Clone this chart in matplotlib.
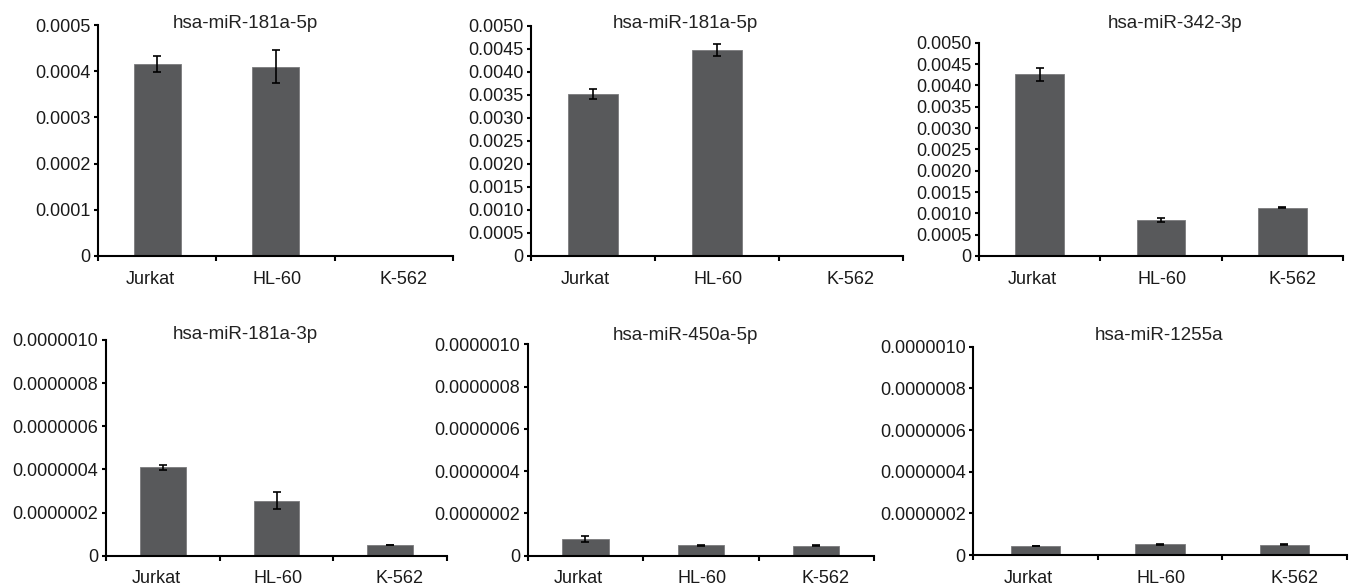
import matplotlib
matplotlib.use("Agg")
import matplotlib.pyplot as plt
import numpy as np
from matplotlib.ticker import FixedLocator, FuncFormatter

plt.rcParams['font.family'] = ['Liberation Sans', 'DejaVu Sans']

W, H = 1352, 585
DPI = 100

cell_lines = ['Jurkat', 'HL-60', 'K-562']

titles = ['hsa-miR-181a-5p', 'hsa-miR-181a-5p', 'hsa-miR-342-3p',
          'hsa-miR-181a-3p', 'hsa-miR-450a-5p', 'hsa-miR-1255a']

mir181a5p_a = [0.000415, 0.000410, 0.0]
mir181a5p_a_err = [0.000017, 0.000035, 0.0]

mir181a5p_b = [0.00352, 0.00447, 0.0]
mir181a5p_b_err = [0.00011, 0.00013, 0.0]

mir342_3p = [0.00426, 0.00084, 0.00113]
mir342_3p_err = [0.00015, 0.00005, 0.00001]

mir181a3p = [4.1e-7, 2.55e-7, 0.5e-7]
mir181a3p_err = [0.11e-7, 0.40e-7, 0.01e-7]

mir450a5p = [0.80e-7, 0.50e-7, 0.48e-7]
mir450a5p_err = [0.13e-7, 0.02e-7, 0.01e-7]

mir1255a = [0.43e-7, 0.51e-7, 0.50e-7]
mir1255a_err = [0.01e-7, 0.02e-7, 0.01e-7]

values = [mir181a5p_a, mir181a5p_b, mir342_3p, mir181a3p, mir450a5p, mir1255a]
errors = [mir181a5p_a_err, mir181a5p_b_err, mir342_3p_err,
          mir181a3p_err, mir450a5p_err, mir1255a_err]

# y-axis scale: (max, step, decimals)
y_scales = [(0.0005, 0.0001, 4), (0.005, 0.0005, 4), (0.005, 0.0005, 4),
            (1e-6, 2e-7, 7), (1e-6, 2e-7, 7), (1e-6, 2e-7, 7)]

# axes boxes in pixels: left, right, top, bottom
boxes = [(98, 453, 25, 256), (531, 903, 25.7, 256), (979, 1343, 42.7, 256),
         (106, 447, 340, 555.7), (527.7, 874, 344.3, 555.7), (973.3, 1346.7, 346.7, 555)]

# title anchor (center x, baseline y) in pixels
title_pos = [(245, 28), (685, 28), (1175, 28), (245, 339), (685, 340), (1159, 340)]

# category label nudges (in category units)
label_shift = [-0.06, 0.01, 0.08]

BAR_COLOR = '#58595b'
FS = 13

fig = plt.figure(figsize=(W / DPI, H / DPI), dpi=DPI)

for i in range(6):
    l, r, t, b = boxes[i]
    ax = fig.add_axes([l / W, 1 - b / H, (r - l) / W, (b - t) / H])
    vals = np.array(values[i])
    errs = np.array(errors[i])
    x = np.arange(len(cell_lines)) + 0.5
    ax.bar(x, vals, width=0.4, color=BAR_COLOR, edgecolor='#7a7b7d', linewidth=0.6, zorder=2)
    mask = vals > 0
    ax.errorbar(x[mask], vals[mask], yerr=errs[mask], fmt='none', ecolor='black',
                elinewidth=1.2, capsize=3.2, capthick=1.2, zorder=3)

    ymax, step, dec = y_scales[i]
    ax.set_xlim(0, 3)
    ax.set_ylim(0, ymax)
    yt = np.arange(0, ymax + step / 2, step)
    ax.yaxis.set_major_locator(FixedLocator(yt))
    ax.yaxis.set_major_formatter(FuncFormatter(
        lambda v, p, d=dec: '0' if abs(v) < 1e-12 else f'{v:.{d}f}'))

    ax.xaxis.set_major_locator(FixedLocator([0, 1, 2, 3]))
    ax.xaxis.set_major_formatter(FuncFormatter(lambda v, p: ''))
    ax.xaxis.set_minor_locator(FixedLocator(list(x + np.array(label_shift))))
    ax.xaxis.set_minor_formatter(FuncFormatter(lambda v, p: cell_lines[int(v)]))

    for s in ['top', 'right']:
        ax.spines[s].set_visible(False)
    for s in ['left', 'bottom']:
        ax.spines[s].set_linewidth(1.5)
        ax.spines[s].set_color('black')

    ax.tick_params(axis='y', which='major', direction='out', length=3, width=1.5,
                   pad=2.5, labelsize=FS, colors='black', labelcolor='#1a1a1a')
    ax.tick_params(axis='x', which='major', direction='out', length=3.5, width=1.5,
                   labelsize=FS)
    ax.tick_params(axis='x', which='minor', length=0, pad=10.5, labelsize=FS,
                   labelcolor='#1a1a1a')
    ax.set_facecolor('none')

    tx, ty = title_pos[i]
    fig.text(tx / W, 1 - ty / H, titles[i], ha='center', va='baseline',
             fontsize=13.5, color='#222222')

fig.savefig('out.png', dpi=DPI)
